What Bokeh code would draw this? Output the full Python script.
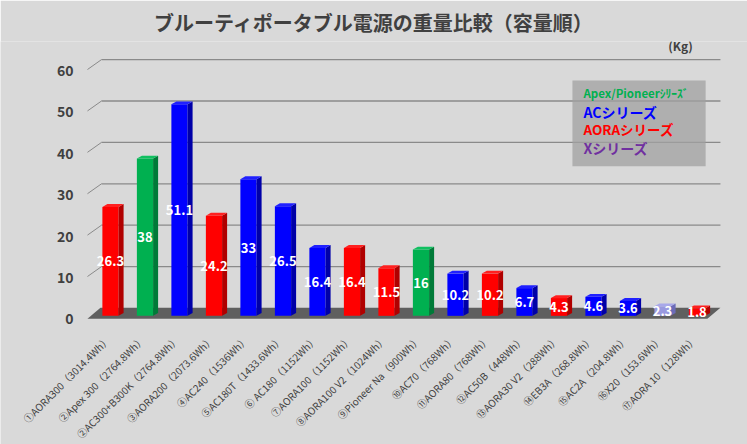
import math
from bokeh.plotting import figure
from bokeh.core.properties import value
from bokeh.embed import file_html
from bokeh.resources import INLINE

# ---- data ----
labels = [
    "①AORA300（3014.4Wh）", "②Apex 300（2764.8Wh）", "②AC300+B300K（2764.8Wh）",
    "③AORA200（2073.6Wh）", "④AC240（1536Wh）", "⑤AC180T（1433.6Wh）",
    "⑥ AC180（1152Wh）", "⑦AORA100（1152Wh）", "⑧AORA100 V2（1024Wh）",
    "⑨Pioneer Na（900Wh）", "⑩AC70（768Wh）", "⑪AORA80（768Wh）",
    "⑫AC50B（448Wh）", "⑬AORA30 V2（288Wh）", "⑭EB3A（268.8Wh）",
    "⑮AC2A（204.8Wh）", "⑯X20（153.6Wh）", "⑰AORA 10（128Wh）",
]
weights = [26.3, 38, 51.1, 24.2, 33, 26.5, 16.4, 16.4, 11.5, 16, 10.2, 10.2, 6.7, 4.3, 4.6, 3.6, 2.3, 1.8]
series = ["AORA", "Apex", "AC", "AORA", "AC", "AC", "AC", "AORA", "AORA", "Apex",
          "AC", "AORA", "AC", "AORA", "AC", "AC", "X", "AORA"]
yticks = [0, 10, 20, 30, 40, 50, 60]
title_text = "ブルーティポータブル電源の重量比較（容量順）"
unit_text = "(Kg)"
legend_texts = ["Apex/Pioneerｼﾘｰｽﾞ", "ACシリーズ", "AORAシリーズ", "Xシリーズ"]

# ---- styles ----
front_col = {"Apex": "#00b050", "AC": "#0000ff", "AORA": "#ff0000", "X": "#9999e0"}
side_col = {"Apex": "#007a38", "AC": "#0000a8", "AORA": "#b00000", "X": "#6c6cb8"}
top_col = {"Apex": "#10c060", "AC": "#2020ff", "AORA": "#ff2020", "X": "#a8a8ea"}
legend_colors = ["#00b050", "#0000ff", "#ff0000", "#7030a0"]
BG = "#d9d9d9"
TXT = "#404040"
FONT = "Noto Sans CJK JP"

XMIN, XMAX = -3.188, 18.464
YMIN, YMAX = -31.08, 66.27

p = figure(width=747, height=444, x_range=(XMIN, XMAX), y_range=(YMIN, YMAX),
           output_backend="svg", toolbar_location=None,
           min_border_left=0, min_border_right=0, min_border_top=30, min_border_bottom=0,
           background_fill_color=BG, border_fill_color=BG)
p.outline_line_color = None
p.xgrid.visible = False
p.ygrid.visible = False
p.xaxis.visible = False
p.yaxis.visible = False

p.title.text = title_text
p.title.align = "center"
p.title.text_font = FONT
p.title.text_font_size = "20px"
p.title.text_font_style = "bold"
p.title.text_color = TXT

idx = list(range(len(weights)))

# 3D-ish gridlines (front edge at v-0.5, back wall at v+1.9)
GX0, GX1, GXE = -0.667, -0.26, 17.68
gv = yticks[1:]
p.segment(x0=[GX0] * len(gv), y0=[v - 0.5 for v in gv], x1=[GX1] * len(gv),
          y1=[v + 1.9 for v in gv], line_color="#8a8a8a", line_width=1)
p.segment(x0=[GX1] * len(gv), y0=[v + 1.9 for v in gv], x1=[GXE] * len(gv),
          y1=[v + 1.9 for v in gv], line_color="#8a8a8a", line_width=1.3)

# y tick labels
p.text(x=[-1.07] * len(yticks), y=[v - 0.72 for v in yticks], text=[str(v) for v in yticks],
       text_color=TXT, text_font=value(FONT), text_font_size="14px", text_font_style="bold",
       text_align="right", text_baseline="middle")

# floor
p.patch(x=[GX0, 17.30, GXE, -0.29], y=[-0.72, -0.72, 1.93, 1.93],
        fill_color="#5f5f5f", line_color=None)

# bars
BW = 0.47
SDX, SDY = 0.145, 0.7
cols = [front_col[s] for s in series]
p.vbar(x=idx, width=BW, top=weights, bottom=0, fill_color=cols, line_color=None)
side_xs, side_ys, top_xs, top_ys = [], [], [], []
for i, w in zip(idx, weights):
    r = i + BW / 2
    l = i - BW / 2
    side_xs.append([r, r + SDX, r + SDX, r])
    side_ys.append([0, SDY, w + SDY, w])
    top_xs.append([l, r, r + SDX, l + SDX])
    top_ys.append([w, w, w + SDY, w + SDY])
p.patches(xs=side_xs, ys=side_ys, fill_color=[side_col[s] for s in series], line_color=None)
p.patches(xs=top_xs, ys=top_ys, fill_color=[top_col[s] for s in series], line_color=None)

# data labels
p.text(x=idx, y=[w / 2 for w in weights], text=[f"{w:g}" for w in weights],
       text_color="white", text_font=value(FONT), text_font_size="13px",
       text_font_style="bold", text_align="center", text_baseline="middle")

# category labels (rotated 45 degrees)
p.text(x=[i - 0.07 for i in idx], y=[-5.2] * len(idx), text=labels, angle=math.pi / 4,
       text_color=TXT, text_font=value(FONT), text_font_size="10px",
       text_align="right", text_baseline="middle")

# unit
p.text(x=[16.52], y=[65.3], text=[unit_text], text_color=TXT, text_font=value(FONT),
       text_font_size="12px", text_font_style="bold", text_align="center", text_baseline="middle")

# legend box
p.quad(left=[13.39], right=[17.25], bottom=[36.14], top=[56.87],
       fill_color="#a0a0a0", fill_alpha=0.75, line_color=None)
p.text(x=[13.71] * 4, y=[53.73, 49.16, 45.06, 40.48], text=legend_texts, text_color=legend_colors,
       text_font=value(FONT), text_font_size=["11.5px", "14px", "13.5px", "14px"],
       text_font_style="bold", text_align="left", text_baseline="middle")

open("out.html", "w").write(file_html(p, INLINE))
